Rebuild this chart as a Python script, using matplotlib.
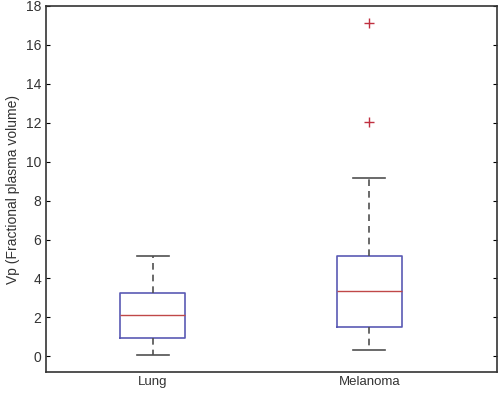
import matplotlib
matplotlib.use("Agg")
import matplotlib.pyplot as plt

plt.rcParams["font.family"] = ["Liberation Sans", "DejaVu Sans"]

# box statistics
groups = ["Lung", "Melanoma"]
whislo = [0.09, 0.34]
q1 = [0.96, 1.50]
med = [2.14, 3.35]
q3 = [3.25, 5.18]
whishi = [5.18, 9.18]
fliers = [[], [12.04, 17.13]]

stats = []
for i in range(len(groups)):
    stats.append({
        "label": groups[i],
        "whislo": whislo[i],
        "q1": q1[i],
        "med": med[i],
        "q3": q3[i],
        "whishi": whishi[i],
        "fliers": fliers[i],
    })

fig = plt.figure(figsize=(5, 3.94), dpi=100)
ax = fig.add_axes([0.092, 0.055, 0.902, 0.93])

ax.bxp(
    stats,
    positions=[1, 2],
    widths=0.30,
    capwidths=0.15,
    boxprops=dict(color="#5a5ab4", linewidth=1.2),
    medianprops=dict(color="#c04848", linewidth=1.0),
    whiskerprops=dict(color="#505050", linewidth=1.2, linestyle=(0, (4, 3))),
    capprops=dict(color="#505050", linewidth=1.2),
    flierprops=dict(marker="+", markeredgecolor="#c03040", markersize=7, markeredgewidth=1.0),
)

ax.set_xlim(0.507, 2.59)
ax.set_ylim(-0.82, 18)
ax.set_yticks(range(0, 19, 2))
ax.set_ylabel("Vp (Fractional plasma volume)", fontsize=10, color="#333333")

ax.tick_params(axis="y", direction="in", right=True, length=3, labelsize=10, labelcolor="#333333")
ax.tick_params(axis="x", length=0, labelsize=9.5, labelcolor="#333333", pad=3)
for s in ax.spines.values():
    s.set_color("#333333")
    s.set_linewidth(1.2)

fig.savefig("out.png")
